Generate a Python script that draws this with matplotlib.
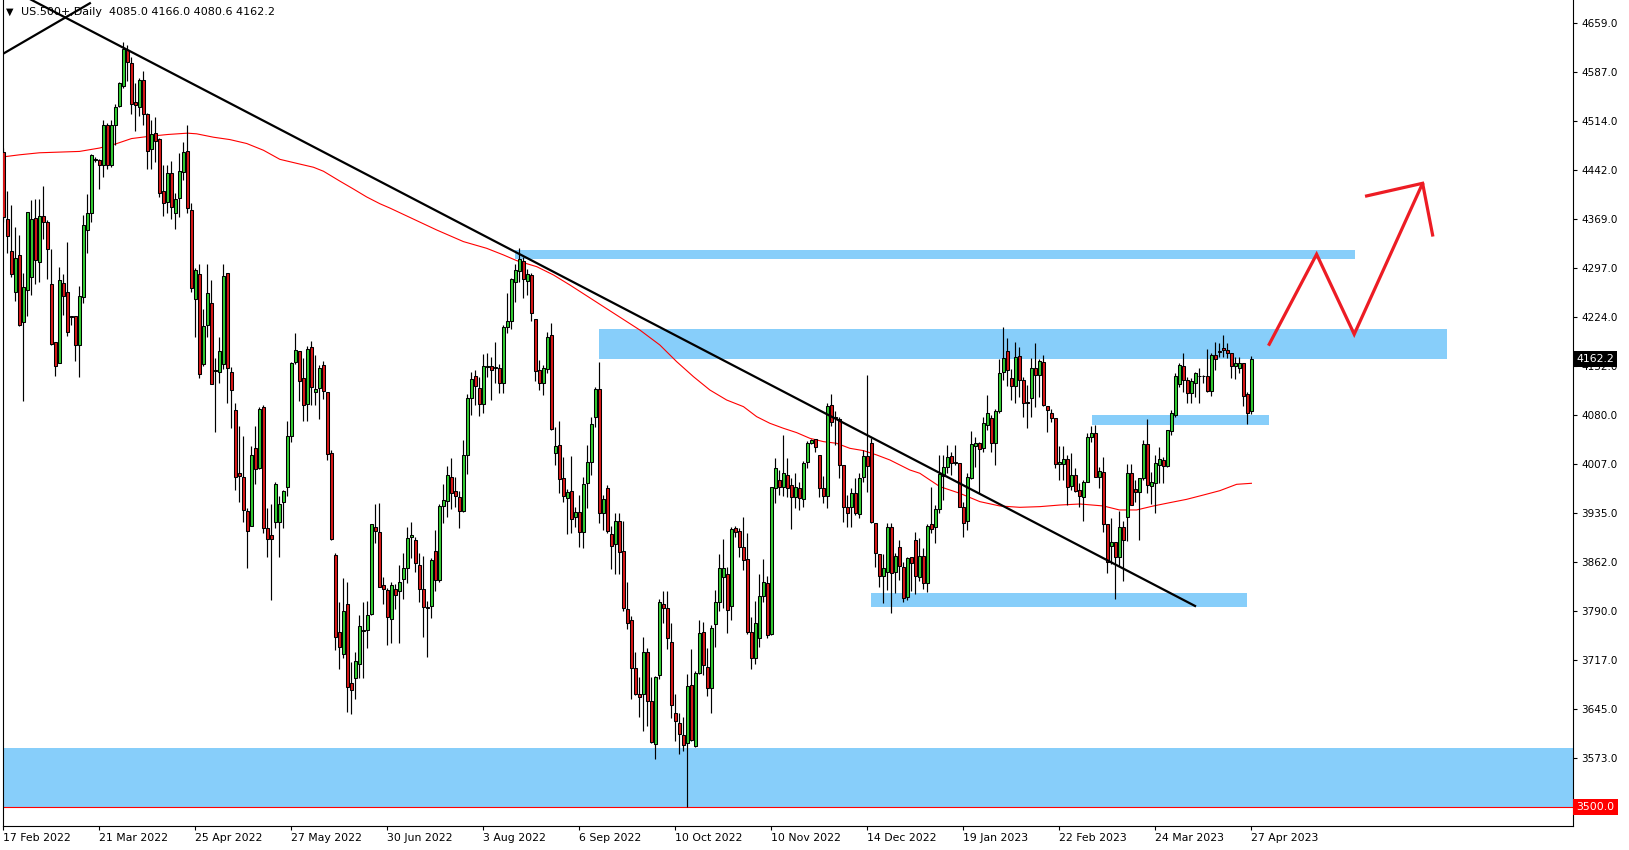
import matplotlib
matplotlib.use("Agg")
import matplotlib.pyplot as plt
from matplotlib.patches import Rectangle
from matplotlib.transforms import blended_transform_factory

# daily bars, oldest first (bar 0 = 17 Feb 2022, bar 312 = 27 Apr 2023)
opens = [
    4467.7, 4369.1, 4321.8, 4260.7, 4315.9, 4216.4, 4263.7, 4282.9, 4370.1, 4305.1,
    4373.1, 4364.2, 4272.6, 4186.9, 4156.8, 4274.0, 4260.7, 4225.8, 4225.8, 4183.4,
    4254.3, 4352.4, 4378.5, 4458.0, 4456.3, 4449.4, 4507.6, 4449.4, 4508.6, 4536.7,
    4566.2, 4618.4, 4599.7, 4542.1, 4535.2, 4574.6, 4524.3, 4473.1, 4495.8, 4487.4,
    4410.0, 4394.8, 4436.6, 4377.5, 4399.7, 4438.1, 4469.2, 4382.4, 4250.4, 4287.4,
    4154.3, 4212.7, 4245.5, 4145.4, 4142.5, 4154.2, 4288.8, 4142.5, 4087.5, 3993.3,
    3988.0, 3937.7, 3916.1, 4031.3, 4000.9, 4091.6, 3913.1, 3901.4, 3921.9, 3921.9,
    3951.2, 3972.8, 4048.9, 4157.7, 4173.5, 4134.3, 4095.7, 4179.4, 4113.2, 4119.1,
    4153.0, 4113.2, 4022.6, 3872.2, 3759.3, 3725.9, 3800.8, 3683.8, 3690.8, 3711.3,
    3760.0, 3761.0, 3785.6, 3913.4, 3906.0, 3827.7, 3820.8, 3777.5, 3821.8, 3819.3,
    3836.6, 3852.8, 3898.6, 3894.7, 3857.7, 3822.3, 3795.2, 3797.6, 3878.4, 3835.6,
    3945.4, 3952.8, 3987.3, 3967.1, 3958.7, 3938.0, 4020.3, 4104.1, 4137.1, 4118.9,
    4095.7, 4150.9, 4151.9, 4148.5, 4148.5, 4127.3, 4209.0, 4218.4, 4275.6, 4292.8,
    4307.6, 4277.5, 4286.4, 4220.9, 4146.0, 4127.3, 4147.0, 4197.2, 4022.8, 4035.1,
    3985.8, 3956.3, 3967.1, 3928.2, 3935.6, 3906.0, 3978.5, 4009.5, 4076.0, 4117.9,
    3934.1, 3971.1, 3903.6, 3888.8, 3922.8, 3878.5, 3792.2, 3776.5, 3705.0, 3667.1,
    3666.6, 3729.7, 3656.7, 3592.7, 3695.1, 3799.6, 3793.7, 3744.4, 3638.5, 3623.7,
    3606.5, 3594.2, 3680.4, 3590.2, 3697.6, 3758.2, 3707.5, 3676.4, 3770.0, 3802.6,
    3840.5, 3844.5, 3797.6, 3912.0, 3908.0, 3883.9, 3866.2, 3759.3, 3719.8, 3749.4,
    3812.0, 3830.7, 3755.8, 3971.1, 3983.4, 3973.6, 3990.8, 3976.0, 3958.8, 3971.1,
    3955.8, 4009.5, 4037.6, 4043.5, 4020.4, 3971.1, 3960.3, 4094.3, 4074.6, 4073.1,
    4005.6, 3944.0, 3944.0, 3963.7, 3933.2, 3988.4, 4019.4, 4037.6, 3919.4, 3874.0,
    3841.0, 3847.0, 3913.5, 3848.0, 3883.9, 3855.3, 3811.0, 3869.1, 3894.7, 3840.5,
    3871.1, 3831.6, 3918.4, 3913.4, 3940.0, 3989.3, 4002.1, 4018.9, 4009.0, 4008.0,
    3944.0, 3923.3, 3985.9, 4033.7, 4038.6, 4030.2, 4064.7, 4075.5, 4037.6, 4085.4,
    4143.5, 4174.6, 4133.7, 4122.3, 4166.7, 4131.2, 4099.2, 4104.1, 4148.5, 4138.6,
    4158.3, 4092.8, 4081.9, 4074.6, 4007.1, 4007.1, 4014.0, 3975.1, 3990.8, 3968.6,
    3958.8, 3981.0, 4047.5, 4052.4, 3988.3, 3994.7, 3918.4, 3886.3, 3892.3, 3869.1,
    3914.4, 3928.2, 3993.3, 3969.6, 3966.1, 3985.9, 4036.1, 3975.0, 3979.5, 4005.6,
    4013.0, 4004.1, 4056.3, 4079.5, 4125.3, 4151.9, 4131.2, 4112.5, 4127.3, 4137.1,
    4137.1, 4137.1, 4115.5, 4168.2, 4174.6, 4178.0, 4175.6, 4170.6, 4151.9, 4148.5,
    4155.8, 4110.5, 4085.0,
]
highs = [
    4473.6, 4410.5, 4389.8, 4357.8, 4345.5, 4288.8, 4380.0, 4397.2, 4398.2, 4398.7,
    4418.4, 4367.7, 4324.8, 4186.9, 4297.7, 4288.3, 4335.1, 4226.0, 4226.3, 4270.1,
    4375.1, 4406.1, 4465.2, 4461.0, 4458.0, 4515.0, 4511.5, 4515.5, 4538.6, 4572.1,
    4630.3, 4626.3, 4609.1, 4569.7, 4577.1, 4587.9, 4525.3, 4515.5, 4520.4, 4489.4,
    4449.0, 4449.0, 4454.9, 4407.1, 4467.2, 4483.0, 4508.1, 4392.9, 4296.2, 4302.2,
    4236.6, 4302.2, 4278.8, 4163.5, 4194.0, 4302.2, 4288.8, 4150.1, 4097.5, 4063.5,
    4048.9, 3942.4, 4034.3, 4063.5, 4091.6, 4094.5, 3942.4, 3948.2, 3980.4, 3959.9,
    3968.7, 4071.1, 4157.7, 4201.0, 4173.5, 4163.5, 4181.1, 4189.3, 4167.6, 4153.0,
    4158.9, 4113.2, 4028.4, 3875.1, 3803.2, 3838.8, 3832.9, 3714.2, 3728.8, 3784.4,
    3803.2, 3805.0, 3917.8, 3947.9, 3948.9, 3839.5, 3823.2, 3833.1, 3829.2, 3857.7,
    3875.0, 3914.4, 3920.8, 3899.6, 3876.0, 3871.1, 3805.0, 3867.6, 3909.5, 3947.9,
    3977.5, 4004.1, 4015.4, 3987.3, 3967.6, 4042.5, 4110.5, 4142.5, 4146.0, 4136.1,
    4169.1, 4171.6, 4165.7, 4187.8, 4154.8, 4212.5, 4260.3, 4281.5, 4302.6, 4325.8,
    4313.5, 4294.8, 4288.9, 4221.0, 4160.8, 4153.4, 4202.6, 4214.9, 4062.2, 4071.1,
    4017.9, 3969.6, 4018.9, 3944.0, 3961.2, 3988.3, 4035.1, 4076.0, 4120.4, 4157.3,
    3961.2, 3976.0, 3915.4, 3935.1, 3935.1, 3923.3, 3832.1, 3782.4, 3729.7, 3691.7,
    3751.8, 3734.6, 3692.7, 3693.7, 3807.0, 3819.8, 3819.8, 3771.5, 3667.1, 3639.5,
    3633.6, 3696.1, 3733.6, 3701.6, 3776.5, 3773.0, 3734.6, 3769.0, 3820.8, 3874.0,
    3895.7, 3854.3, 3914.4, 3915.4, 3912.0, 3929.2, 3904.6, 3780.4, 3805.1, 3844.5,
    3866.2, 3841.5, 3973.6, 4015.5, 3998.2, 4050.0, 4015.5, 3986.9, 3994.3, 3981.0,
    4012.0, 4041.1, 4044.0, 4044.5, 4020.4, 3989.3, 4096.7, 4110.1, 4085.9, 4076.1,
    4005.6, 3961.3, 3971.1, 3985.9, 3993.3, 4027.8, 4138.6, 4045.0, 3919.4, 3874.0,
    3874.0, 3919.4, 3919.4, 3876.0, 3894.7, 3862.7, 3870.1, 3869.1, 3907.0, 3897.2,
    3883.4, 3918.4, 3973.6, 3946.4, 4020.3, 4020.3, 4035.1, 4025.3, 4035.1, 4008.5,
    3951.4, 3993.3, 4056.3, 4047.4, 4040.1, 4077.0, 4109.0, 4079.5, 4087.9, 4161.8,
    4209.1, 4192.8, 4147.0, 4187.9, 4180.5, 4136.1, 4123.8, 4163.2, 4186.4, 4161.8,
    4168.2, 4092.8, 4087.9, 4074.6, 4033.7, 4033.7, 4020.3, 4022.8, 4000.7, 3978.5,
    3983.4, 4052.4, 4063.2, 4064.7, 4002.1, 4017.9, 3918.4, 3926.8, 3892.3, 3938.1,
    3923.3, 4007.1, 4007.1, 3983.4, 3985.9, 4042.5, 4073.1, 3995.7, 4020.3, 4032.7,
    4016.9, 4057.3, 4086.9, 4141.1, 4156.8, 4171.6, 4135.2, 4133.7, 4143.5, 4148.5,
    4138.1, 4176.5, 4171.6, 4187.9, 4185.4, 4197.7, 4186.4, 4171.6, 4165.7, 4164.7,
    4156.8, 4114.0, 4166.0,
]
lows = [
    4365.2, 4319.4, 4283.9, 4248.4, 4211.5, 4100.6, 4226.3, 4256.8, 4273.1, 4276.5,
    4340.1, 4280.0, 4182.9, 4137.6, 4155.8, 4227.2, 4196.7, 4213.0, 4159.3, 4136.1,
    4245.5, 4319.4, 4364.2, 4453.0, 4414.0, 4431.7, 4442.6, 4445.5, 4478.5, 4534.2,
    4563.3, 4573.1, 4524.3, 4499.7, 4521.4, 4507.6, 4443.5, 4443.5, 4453.9, 4402.2,
    4374.1, 4377.5, 4369.1, 4353.9, 4371.6, 4426.8, 4378.5, 4261.3, 4194.2, 4134.6,
    4152.0, 4194.0, 4125.0, 4054.7, 4126.7, 4147.2, 4097.5, 4060.6, 3968.7, 3951.2,
    3921.9, 3852.9, 3916.0, 3977.5, 4000.0, 3904.4, 3869.2, 3806.1, 3913.1, 3869.2,
    3913.1, 3959.9, 4038.9, 4154.2, 4100.4, 4069.9, 4071.1, 4094.5, 4094.5, 4074.0,
    4103.3, 4012.6, 3895.0, 3731.8, 3704.2, 3720.0, 3641.1, 3638.1, 3659.8, 3690.8,
    3690.8, 3734.7, 3784.4, 3890.7, 3825.0, 3800.1, 3739.5, 3743.0, 3792.2, 3743.0,
    3807.0, 3831.6, 3867.6, 3847.9, 3803.5, 3750.8, 3722.3, 3779.0, 3819.8, 3833.1,
    3920.3, 3929.2, 3940.0, 3944.0, 3912.0, 3936.6, 3992.3, 4079.4, 4094.2, 4078.5,
    4082.9, 4136.1, 4101.6, 4126.3, 4111.5, 4112.5, 4201.1, 4206.1, 4247.0, 4276.5,
    4252.9, 4256.8, 4218.9, 4130.2, 4116.4, 4109.0, 4142.0, 4058.0, 4005.6, 3963.7,
    3951.4, 3903.6, 3904.6, 3914.4, 3884.8, 3882.4, 3941.5, 3990.8, 4061.2, 3919.3,
    3909.5, 3904.6, 3851.8, 3844.4, 3844.0, 3789.8, 3762.7, 3659.2, 3666.0, 3633.6,
    3612.9, 3619.8, 3595.0, 3570.5, 3688.8, 3772.5, 3733.1, 3631.1, 3598.1, 3578.4,
    3583.3, 3500.6, 3598.1, 3589.2, 3696.6, 3695.1, 3664.1, 3639.5, 3736.1, 3790.3,
    3793.7, 3757.7, 3776.5, 3898.7, 3870.1, 3850.4, 3755.8, 3703.6, 3711.4, 3737.1,
    3803.6, 3749.4, 3754.3, 3948.9, 3961.3, 3959.8, 3958.8, 3911.0, 3941.6, 3939.1,
    3944.0, 4000.7, 4036.6, 4024.3, 3958.8, 3949.0, 3941.6, 4063.7, 4035.2, 3985.9,
    3920.8, 3914.4, 3914.4, 3931.7, 3926.8, 3981.0, 3966.2, 3919.4, 3855.3, 3825.8,
    3802.1, 3820.8, 3787.4, 3815.9, 3835.6, 3803.6, 3806.1, 3819.8, 3814.4, 3834.6,
    3821.8, 3818.4, 3904.6, 3889.8, 3934.1, 3953.8, 3993.3, 3990.8, 4005.6, 3943.0,
    3899.7, 3909.5, 3984.4, 4003.1, 3963.7, 4025.3, 4057.3, 4025.3, 4005.6, 4081.9,
    4131.2, 4122.3, 4101.7, 4096.7, 4106.6, 4077.0, 4059.8, 4077.0, 4091.8, 4106.6,
    4092.8, 4054.9, 4069.6, 4000.7, 3983.4, 3983.4, 3946.4, 3968.6, 3966.2, 3944.0,
    3923.3, 3980.0, 4040.1, 3988.3, 3971.1, 3907.0, 3845.5, 3859.3, 3807.0, 3856.3,
    3834.6, 3893.7, 3946.0, 3951.4, 3894.7, 3983.4, 3963.7, 3947.9, 3935.1, 3978.5,
    3978.5, 4003.1, 4049.9, 4076.0, 4121.4, 4114.0, 4097.7, 4097.7, 4106.6, 4097.7,
    4127.3, 4114.0, 4107.6, 4146.0, 4165.7, 4165.7, 4163.2, 4133.7, 4132.2, 4141.1,
    4092.8, 4066.2, 4080.6,
]
closes = [
    4372.6, 4344.5, 4288.3, 4311.0, 4212.5, 4268.6, 4379.0, 4368.6, 4309.0, 4373.1,
    4364.2, 4324.3, 4184.9, 4151.4, 4278.5, 4255.8, 4202.6, 4224.8, 4183.4, 4254.8,
    4360.3, 4378.0, 4463.7, 4456.5, 4449.4, 4508.1, 4449.4, 4507.6, 4534.2, 4570.7,
    4619.9, 4600.7, 4539.1, 4538.1, 4574.6, 4524.8, 4470.1, 4494.3, 4484.9, 4408.1,
    4393.3, 4436.6, 4387.4, 4398.7, 4439.6, 4468.2, 4384.9, 4267.6, 4293.8, 4139.5,
    4211.0, 4259.5, 4125.5, 4145.0, 4173.5, 4284.7, 4148.3, 4116.2, 3988.0, 3989.2,
    3938.9, 3908.5, 4019.6, 3999.2, 4088.7, 3913.1, 3896.8, 3896.8, 3977.5, 3948.2,
    3967.5, 4048.9, 4155.9, 4175.3, 4129.6, 4094.5, 4176.4, 4120.8, 4117.9, 4148.9,
    4115.0, 4021.4, 3895.6, 3751.0, 3736.4, 3789.1, 3677.9, 3673.3, 3715.4, 3768.0,
    3761.5, 3783.2, 3917.8, 3908.5, 3825.7, 3821.8, 3780.4, 3827.7, 3813.4, 3832.1,
    3852.8, 3897.2, 3902.1, 3860.2, 3821.8, 3795.2, 3793.7, 3865.1, 3835.6, 3945.0,
    3953.8, 3990.8, 3963.7, 3960.2, 3938.0, 4020.3, 4104.1, 4132.7, 4122.3, 4095.7,
    4151.9, 4151.4, 4146.0, 4150.9, 4127.3, 4209.0, 4218.4, 4280.0, 4293.8, 4309.5,
    4280.0, 4287.4, 4229.7, 4145.0, 4126.3, 4148.5, 4194.3, 4058.3, 4034.1, 3984.4,
    3959.7, 3966.1, 3925.3, 3935.6, 3907.0, 3977.5, 4009.5, 4065.7, 4117.9, 3935.1,
    3954.8, 3908.5, 3886.3, 3922.8, 3877.5, 3794.7, 3772.5, 3706.0, 3666.6, 3663.1,
    3728.7, 3657.2, 3595.6, 3692.7, 3802.6, 3793.7, 3749.4, 3650.8, 3627.2, 3608.0,
    3591.7, 3678.9, 3599.1, 3698.6, 3756.6, 3710.0, 3675.4, 3764.1, 3803.6, 3852.8,
    3852.8, 3791.2, 3910.5, 3906.1, 3883.9, 3865.2, 3759.3, 3719.8, 3771.6, 3812.0,
    3832.2, 3754.3, 3972.6, 4000.7, 3973.6, 3993.3, 3972.1, 3958.8, 3973.6, 3956.3,
    4009.0, 4037.6, 4042.5, 4032.7, 3971.1, 3960.3, 4092.8, 4069.7, 4077.1, 4005.6,
    3944.0, 3934.2, 3963.7, 3935.1, 3985.9, 4019.4, 4004.1, 3920.9, 3876.0, 3841.5,
    3852.9, 3913.5, 3846.5, 3871.1, 3856.3, 3808.5, 3867.7, 3860.2, 3841.5, 3871.1,
    3831.6, 3915.4, 3911.0, 3940.5, 3992.3, 4003.1, 4017.9, 4008.0, 4009.5, 3944.0,
    3919.4, 3987.3, 4036.6, 4037.6, 4028.7, 4067.2, 4083.0, 4038.6, 4085.4, 4141.1,
    4163.2, 4146.0, 4122.3, 4164.7, 4131.2, 4096.7, 4096.7, 4148.5, 4138.6, 4159.8,
    4094.3, 4086.9, 4074.6, 4007.1, 4010.5, 4014.0, 3973.6, 3990.8, 3967.6, 3959.8,
    3980.9, 4047.5, 4052.4, 3988.3, 3997.2, 3918.4, 3861.7, 3892.3, 3869.1, 3914.4,
    3894.7, 3993.3, 3946.4, 3966.1, 3985.9, 4036.1, 3976.0, 3980.0, 4009.0, 4014.0,
    4004.1, 4057.3, 4081.9, 4137.1, 4153.4, 4131.2, 4112.5, 4130.2, 4141.1, 4136.6,
    4137.6, 4115.5, 4168.2, 4161.8, 4173.1, 4175.6, 4171.6, 4151.9, 4156.8, 4155.8,
    4107.6, 4082.9, 4162.2,
]

# time axis labels, one every 24 bars
date_labels = ["17 Feb 2022", "21 Mar 2022", "25 Apr 2022", "27 May 2022", "30 Jun 2022",
               "3 Aug 2022", "6 Sep 2022", "10 Oct 2022", "10 Nov 2022", "14 Dec 2022",
               "19 Jan 2023", "22 Feb 2023", "24 Mar 2023", "27 Apr 2023"]
date_label_bars = [0, 24, 48, 72, 96, 120, 144, 168, 192, 216, 240, 264, 288, 312]

price_ticks = [4659.0, 4587.0, 4514.0, 4442.0, 4369.0, 4297.0, 4224.0, 4152.0,
               4080.0, 4007.0, 3935.0, 3862.0, 3790.0, 3717.0, 3645.0, 3573.0]

# red moving average, read at points along the line
ma_bars = [0, 4, 9, 19, 24, 28, 32, 36, 41, 46,
           48.3, 52.5, 56.6, 60.8, 65, 69.1, 73.3, 77.5, 80, 84.1,
           87.5, 90.8, 94.1, 96.6, 108.3, 115, 120.8, 125, 128.3, 133.3,
           137.5, 141.6, 159.1, 164.1, 168.3, 172.5, 176.6, 180.8, 185, 188.3,
           191.6, 195, 198.3, 201.6, 205, 208.3, 211.6, 215, 218.3, 221.6,
           226.6, 229.1, 234.1, 239.1, 244.1, 249.1, 254.1, 259.1, 264.1, 269.1,
           275, 279, 283.3, 287.5, 291.6, 295.8, 300, 304.1, 308.3, 312]
ma_values = [4461, 4464, 4467, 4469, 4474, 4480, 4488, 4491, 4494, 4496,
             4495, 4490, 4486.5, 4480.7, 4470.7, 4457.3, 4451.4, 4445.6, 4439.7, 4425.1,
             4413.4, 4401.7, 4391.7, 4385.3, 4352.9, 4335.7, 4325.8, 4316, 4307.6, 4298.7,
             4286.4, 4271.6, 4205, 4182.9, 4158.3, 4136.1, 4116.4, 4101.6, 4091.8, 4077.0,
             4067.2, 4059.8, 4053.4, 4045.0, 4040.1, 4037.6, 4030.2, 4026.8, 4020.4, 4013.0,
             3998.2, 3993.3, 3973.6, 3963.7, 3951.4, 3945.0, 3943.0, 3944.0, 3946.4, 3947.9,
             3945.0, 3939.1, 3939.1, 3945.0, 3949.9, 3954.8, 3961.2, 3967.6, 3977.0, 3978.5]

# blue supply / demand zones
zone_start = [127.9, 148.9, 272.1, 216.9, -1]
zone_end = [337.9, 360.8, 316.5, 310.8, 393]
zone_low = [4310.0, 4162.3, 4064.7, 3795.0, 3500.5]
zone_high = [4323.3, 4206.6, 4079.5, 3816.8, 3587.7]

# black trend lines (two anchor points each)
trend_bars = [0, 297.9]
trend_prices = [4714.5, 3797.2]
short_bars = [-0.2, 21.6]
short_prices = [4613.0, 4688.0]

# hand drawn red projection arrow
arrow_bars = [316.45, 328.3, 337.7, 354.8, 357.3]
arrow_prices = [4184.0, 4317.0, 4198.8, 4421.9, 4345.5]
arrow_head_bars = [340.8, 354.8]
arrow_head_prices = [4403.2, 4421.9]

last_price = 4162.2
level_price = 3500.0

up_color = "#32cd32"
down_color = "#d81818"
zone_color = "#87cefa"

fig = plt.figure(figsize=(16.29, 8.5), dpi=100)
ax = fig.add_axes([2.7 / 1629, 1 - 826 / 850, (1573 - 2.7) / 1629, 826 / 850])
ax.set_xlim(-0.2, 392.4)
ax.set_ylim(3472.0, 4692.8)

for s, e, lo, hi in zip(zone_start, zone_end, zone_low, zone_high):
    ax.add_patch(Rectangle((s, lo), e - s, hi - lo, facecolor=zone_color, edgecolor="none", zorder=1))

ax.axhline(level_price, color="red", linewidth=0.8, zorder=2)
ax.plot(ma_bars, ma_values, color="red", linewidth=0.8, zorder=2)

# candles
bars = list(range(len(closes)))
colors = [up_color if c >= o else down_color for o, c in zip(opens, closes)]
body_bottom = [min(o, c) for o, c in zip(opens, closes)]
body_height = [max(abs(c - o), 0.3) for o, c in zip(opens, closes)]
ax.vlines(bars, lows, highs, color="black", linewidth=0.85, zorder=3)
ax.bar(bars, body_height, bottom=body_bottom, width=0.8, color=colors,
       edgecolor="black", linewidth=0.75, zorder=4)

ax.plot(trend_bars, trend_prices, color="black", linewidth=1.6, zorder=5)
ax.plot(short_bars, short_prices, color="black", linewidth=1.6, zorder=5)

ax.plot(arrow_bars, arrow_prices, color="#ed1c24", linewidth=2.3, zorder=6,
        solid_joinstyle="miter")
ax.plot(arrow_head_bars, arrow_head_prices, color="#ed1c24", linewidth=2.3, zorder=6)

# axes look of the trading terminal
ax.spines["top"].set_visible(False)
for side in ["left", "right", "bottom"]:
    ax.spines[side].set_linewidth(0.8)
ax.yaxis.tick_right()
ax.set_yticks(price_ticks)
ax.set_yticklabels([f"{p:.1f}" for p in price_ticks], fontsize=7.5)
ax.tick_params(axis="y", direction="out", length=3, width=0.8, pad=3)
ax.set_xticks(date_label_bars)
ax.set_xticklabels(date_labels, ha="left", fontsize=7.8)
ax.tick_params(axis="x", direction="out", length=3, width=0.8, pad=2)

trans = blended_transform_factory(ax.transAxes, ax.transData)
ax.text(1.002, last_price, f"{last_price:.1f}", transform=trans, ha="left", va="center",
        color="white", fontsize=7.8, clip_on=False, zorder=10,
        bbox=dict(boxstyle="square,pad=0.3", facecolor="black", edgecolor="none"))
ax.text(1.002, level_price, f"{level_price:.1f}", transform=trans, ha="left", va="center",
        color="white", fontsize=7.8, clip_on=False, zorder=10,
        bbox=dict(boxstyle="square,pad=0.3", facecolor="red", edgecolor="none"))

fig.text(6 / 1629, 1 - 12 / 850, "\u25bc", fontsize=7, va="center", ha="left", zorder=20)
fig.text(21 / 1629, 1 - 12 / 850, "US.500+,Daily  4085.0 4166.0 4080.6 4162.2",
         fontsize=8, va="center", ha="left", color="black", zorder=20)

fig.savefig("out.png", dpi=100, facecolor="white")
